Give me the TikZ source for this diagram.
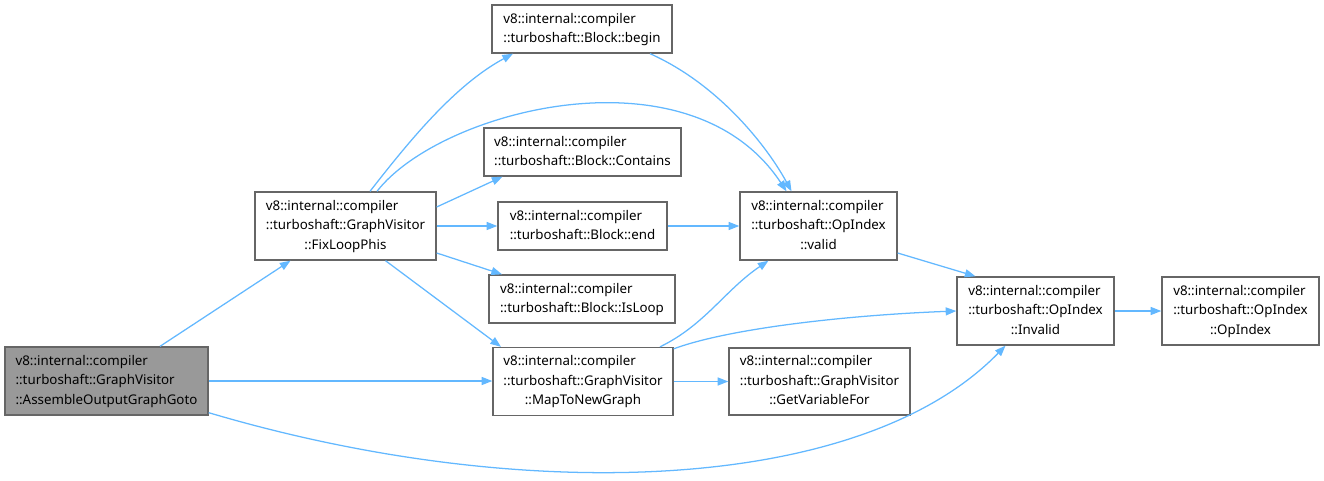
\documentclass[tikz,border=0pt]{standalone}
\usepackage{fontspec}
\setmainfont{Noto Sans}
\usetikzlibrary{arrows.meta,calc}
\definecolor{edgeblue}{HTML}{63B8FF}
\definecolor{boxgray}{HTML}{666666}
\definecolor{mainfill}{HTML}{999999}
\newcommand{\tl}[3]{\begin{tabular}{@{}l@{}}#1\\#2\\\multicolumn{1}{@{}c@{}}{#3}\end{tabular}}
\newcommand{\tll}[2]{\begin{tabular}{@{}l@{}}#1\\\multicolumn{1}{@{}c@{}}{#2}\end{tabular}}
\begin{document}
\begin{tikzpicture}[x=0.75pt,y=-0.75pt,
  box/.style={draw=boxgray, line width=1pt, fill=white, inner sep=0pt, rectangle,
    font=\fontsize{10}{14.6}\selectfont},
  edge/.style={draw=edgeblue, line width=0.95pt, -{Triangle[length=8pt,width=6pt]}}]
\useasboundingbox (0,0) rectangle (1324,481);

\node[box, fill=mainfill, minimum width=203*0.75pt, minimum height=68*0.75pt] (A) at (106.5,381)
  {\tl{v8::internal::compiler}{::turboshaft::GraphVisitor}{::AssembleOutputGraphGoto}};
\node[box, minimum width=181*0.75pt, minimum height=68*0.75pt] (F) at (345.5,226)
  {\tl{v8::internal::compiler}{::turboshaft::GraphVisitor}{::FixLoopPhis}};
\node[box, minimum width=180*0.75pt, minimum height=48*0.75pt] (Bb) at (582,29)
  {\tll{v8::internal::compiler}{::turboshaft::Block::begin}};
\node[box, minimum width=197*0.75pt, minimum height=48*0.75pt] (Bc) at (582.5,152)
  {\tll{v8::internal::compiler}{::turboshaft::Block::Contains}};
\node[box, minimum width=169*0.75pt, minimum height=48*0.75pt] (Be) at (582.5,226)
  {\tll{v8::internal::compiler}{::turboshaft::Block::end}};
\node[box, minimum width=186*0.75pt, minimum height=48*0.75pt] (Bl) at (582,299)
  {\tll{v8::internal::compiler}{::turboshaft::Block::IsLoop}};
\node[box, minimum width=180*0.75pt, minimum height=68*0.75pt] (M) at (583,381.5)
  {\tl{v8::internal::compiler}{::turboshaft::GraphVisitor}{::MapToNewGraph}};
\node[box, minimum width=157*0.75pt, minimum height=68*0.75pt] (V) at (818.5,226)
  {\tl{v8::internal::compiler}{::turboshaft::OpIndex}{::valid}};
\node[box, minimum width=181*0.75pt, minimum height=67*0.75pt] (G) at (819.5,381.5)
  {\tl{v8::internal::compiler}{::turboshaft::GraphVisitor}{::GetVariableFor}};
\node[box, minimum width=157*0.75pt, minimum height=68*0.75pt] (I) at (1035.5,311)
  {\tl{v8::internal::compiler}{::turboshaft::OpIndex}{::Invalid}};
\node[box, minimum width=157*0.75pt, minimum height=68*0.75pt] (O) at (1240.5,311)
  {\tl{v8::internal::compiler}{::turboshaft::OpIndex}{::OpIndex}};

% edges from A
\draw[edge] ($(A.north)+(53.5,0)$) -- ($(F.south)+(-55,0)$);
\draw[edge] (A.east) -- (M.west |- A.east);
\draw[edge] ($(A.south east)+(0,-3)$) .. controls (520,505) and (860,495) .. ($(I.south)+(-30,0)$);

% edges from F
\draw[edge] ($(F.north)+(24.5,0)$) .. controls (410,140) and (455,85) .. ($(Bb.south)+(-69,0)$);
\draw[edge] ($(F.north)+(31.5,0)$) .. controls (440,110) and (690,45) .. ($(V.north)+(-32,0)$);
\draw[edge] ($(F.east)+(0,-19)$) -- ($(Bc.south)+(-80,0)$);
\draw[edge] (F.east) -- (Be.west);
\draw[edge] ($(F.east)+(0,27)$) -- ($(Bl.north)+(-80,0)$);
\draw[edge] ($(F.south)+(40,0)$) -- ($(M.north)+(-82,0)$);

% edges to valid
\draw[edge] ($(Bb.south)+(68,0)$) .. controls (720,85) and (768,148) .. ($(V.north)+(-27,0)$);
\draw[edge] (Be.east) -- (V.west);
\draw[edge] ($(M.north)+(77,0)$) .. controls (705,325) and (725,290) .. ($(V.south)+(-50,0)$);

% edges to Invalid
\draw[edge] ($(M.north east)+(0,2)$) .. controls (730,328) and (850,315) .. (I.west);
\draw[edge] ($(V.east)+(0,27)$) -- ($(I.north)+(-60,0)$);
\draw[edge] (I.east) -- (O.west);

\draw[edge] (M.east) -- (G.west);
\end{tikzpicture}
\end{document}
